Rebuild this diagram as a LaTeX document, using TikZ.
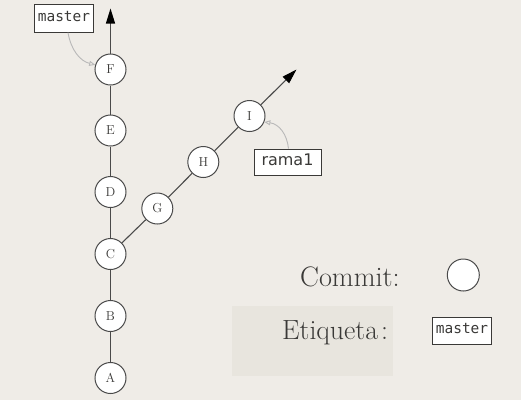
\documentclass[tikz,border=0pt]{standalone}
\usepackage{fontspec}
\newfontfamily\monofont{DejaVu Sans Mono}
\newfontfamily\sansfont{DejaVu Sans}
\usetikzlibrary{arrows.meta}
\definecolor{paper}{HTML}{EFECE7}
\definecolor{paperdark}{HTML}{E8E5DE}
\definecolor{ink}{HTML}{3A3937}
\definecolor{edge}{HTML}{4A4A4A}
\definecolor{pointer}{HTML}{B8B8B8}
\tikzset{
  commit/.style={circle,draw=edge,line width=1pt,fill=white,minimum size=31pt,inner sep=0pt,
    font=\fontsize{13}{15}\selectfont,text=ink},
  tagbox/.style={draw=ink,line width=0.8pt,fill=white,inner sep=0pt,text=ink},
  mastertag/.style={tagbox,minimum width=59pt,minimum height=27.5pt,text height=0.55em,text depth=0pt,
    font=\monofont\fontsize{14.5}{16}\selectfont},
  branchtag/.style={tagbox,minimum width=67pt,minimum height=26pt,text height=0.6em,text depth=0pt,
    font=\sansfont\fontsize{16}{18}\selectfont},
  trunkline/.style={draw=edge,line width=1.1pt},
  growline/.style={trunkline,-{Triangle[length=15pt,width=9pt,color=black,fill=black]}},
  pointerarrow/.style={draw=pointer,line width=0.9pt,-{Triangle[open,length=6pt,width=5pt]}},
  legendtext/.style={inner sep=0pt,text=ink}
}
\begin{document}
\begin{tikzpicture}[x=1pt,y=-1pt]
\fill[paper] (0,0) rectangle (521,400);
\useasboundingbox (0,0) rectangle (521,400);
\fill[paperdark] (232,306) rectangle (393,376);

\node[commit] (A) at (110.5,378) {A};
\node[commit] (B) at (110.5,316) {B};
\node[commit] (C) at (110.5,254) {C};
\node[commit] (D) at (110.5,192) {D};
\node[commit] (E) at (110.5,130.5) {E};
\node[commit] (F) at (110.5,69.5) {F};
\node[commit] (G) at (157.3,208.5) {G};
\node[commit] (H) at (203.3,162) {H};
\node[commit] (I) at (249.5,116) {I};
\coordinate (topF) at (110.5,8.5);
\coordinate (topI) at (296.5,69.5);

\draw[trunkline] (A) -- (B) -- (C) -- (D) -- (E) -- (F);
\draw[growline] (F) -- (topF);
\draw[trunkline] (C) -- (G) -- (H) -- (I);
\draw[growline] (I) -- (topI);

\node[mastertag] (master) at (64,18.5) {master};
\node[branchtag] (rama) at (287.5,162) {rama1};

\draw[pointerarrow] ([xshift=4pt]master.south) .. controls (71,50) and (80,61) .. (F.163);
\draw[pointerarrow] ([xshift=1pt]rama.north) .. controls (287,134) and (279,124) .. (I.-22);

\node[legendtext,anchor=base west,font=\fontsize{28.2}{32}\selectfont] (commitlabel) at (300,286) {Commit:};
\node[commit,minimum size=32pt] (commitsample) at (463.3,275) {};
\node[legendtext,anchor=base west,font=\fontsize{27.8}{32}\selectfont] (taglabel) at (282,339.3) {Etiqueta\kern3pt:};
\node[mastertag] (mastersample) at (462,330.7) {master};
\end{tikzpicture}
\end{document}
